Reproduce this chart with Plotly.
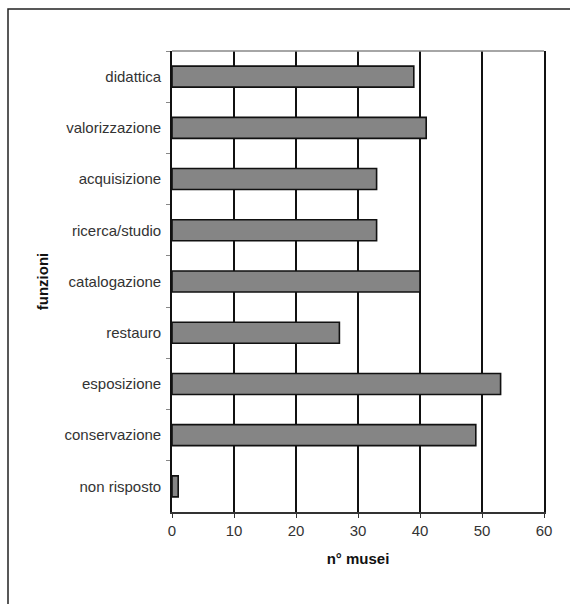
import plotly.graph_objects as go

# Functions performed by the museums and number of museums for each one
funzioni = [
    "didattica",
    "valorizzazione",
    "acquisizione",
    "ricerca/studio",
    "catalogazione",
    "restauro",
    "esposizione",
    "conservazione",
    "non risposto",
]
n_musei = [39, 41, 33, 33, 40, 27, 53, 49, 1]
x_ticks = [0, 10, 20, 30, 40, 50, 60]

W, H = 570, 604
L, R, T, B = 172, 26, 51, 92
pw, ph = W - L - R, H - T - B

fig = go.Figure(
    go.Bar(
        x=n_musei,
        y=funzioni,
        orientation="h",
        marker=dict(color="#858585", line=dict(color="#111111", width=1.6)),
        width=0.41,
    )
)

font_family = "Liberation Sans, Arial, sans-serif"

fig.update_layout(
    width=W,
    height=H,
    margin=dict(l=L, r=R, t=T, b=B),
    paper_bgcolor="white",
    plot_bgcolor="white",
    showlegend=False,
    font=dict(family=font_family, size=15, color="#222222"),
    xaxis=dict(
        range=[0, 60],
        tickvals=x_ticks,
        ticktext=[str(v) for v in x_ticks],
        showgrid=True,
        gridcolor="#111111",
        gridwidth=1.6,
        zeroline=False,
        showline=True,
        linecolor="#333333",
        linewidth=1.6,
        mirror=False,
        ticks="outside",
        ticklen=4,
        tickcolor="#333333",
        tickfont=dict(size=15, color="#333333"),
        title=dict(
            text="<b>n° musei</b>",
            font=dict(size=15, color="#111111"),
            standoff=16,
        ),
        fixedrange=True,
    ),
    yaxis=dict(
        categoryorder="array",
        categoryarray=funzioni,
        autorange="reversed",
        showgrid=False,
        zeroline=False,
        showline=True,
        linecolor="#111111",
        linewidth=1.6,
        mirror=True,
        ticks="outside",
        tickson="boundaries",
        ticklen=4,
        tickcolor="#888888",
        tickfont=dict(size=15, color="#333333"),
        ticklabelstandoff=6,
        title=dict(
            text="<b>funzioni</b>",
            font=dict(size=15, color="#111111"),
            standoff=12,
        ),
        fixedrange=True,
    ),
)

# Top edge of the plotting area (lighter than the other borders)
fig.add_shape(
    type="line", xref="paper", yref="paper",
    x0=0, x1=1, y0=1, y1=1,
    line=dict(color="#888888", width=1.4),
)

# Frame around the whole chart, running off the right and bottom edges
fig.add_shape(
    type="rect", xref="paper", yref="paper",
    x0=(8 - L) / pw, x1=1 + (W + 20 - (W - R)) / pw,
    y0=-(H + 20 - (H - B)) / ph, y1=1 + (T - 9) / ph,
    line=dict(color="#222222", width=1.5),
    fillcolor="rgba(0,0,0,0)",
    layer="below",
)

fig.write_html("out.html")
